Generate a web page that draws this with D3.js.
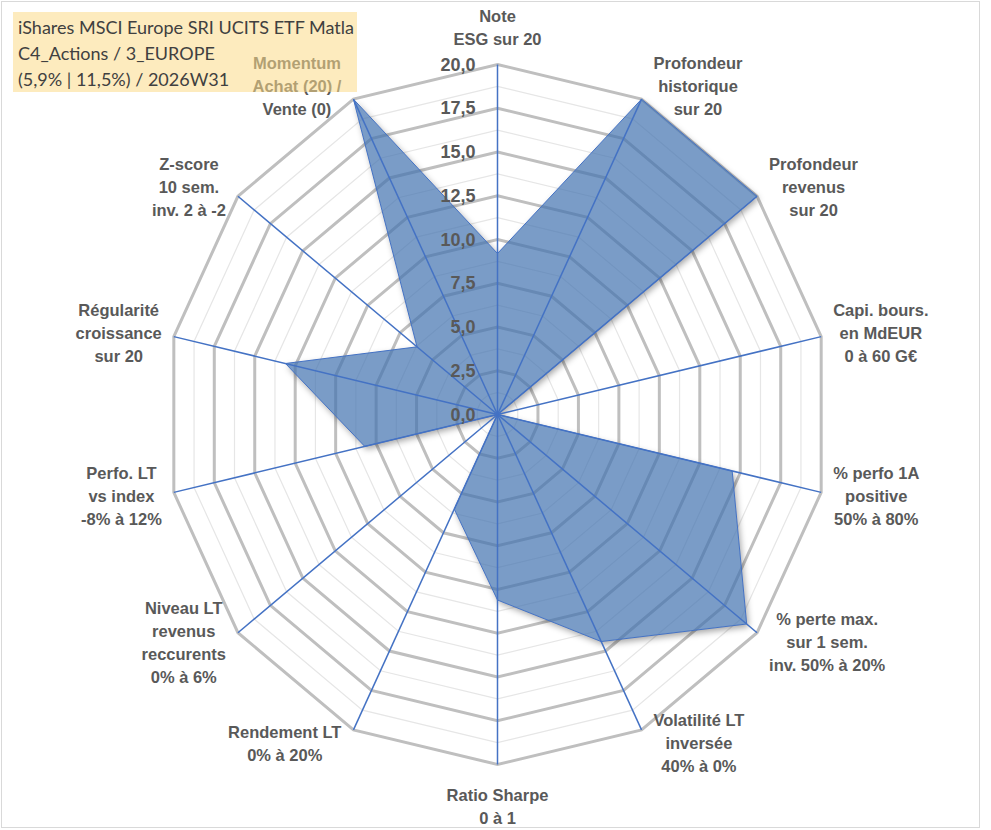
<!DOCTYPE html>
<html>
<head>
<meta charset="utf-8">
<script src="https://cdn.jsdelivr.net/npm/d3@7/dist/d3.min.js"></script>
<style>
  body { margin: 0; background: #fff; }
  svg { display: block; }
</style>
</head>
<body>
<script>
//Data
var axisLabels = [
    ["Note", "ESG sur 20"],
    ["Profondeur", "historique", "sur 20"],
    ["Profondeur", "revenus", "sur 20"],
    ["Capi. bours.", "en MdEUR", "0 à 60 G€"],
    ["% perfo 1A", "positive", "50% à 80%"],
    ["% perte max.", "sur 1 sem.", "inv. 50% à 20%"],
    ["Volatilité LT", "inversée", "40% à 0%"],
    ["Ratio Sharpe", "0 à 1"],
    ["Rendement LT", "0% à 20%"],
    ["Niveau LT", "revenus", "reccurents", "0% à 6%"],
    ["Perfo. LT", "vs index", "-8% à 12%"],
    ["Régularité", "croissance", "sur 20"],
    ["Z-score", "10 sem.", "inv. 2 à -2"],
    ["Momentum", "Achat (20) /", "Vente (0)"]
];

var scores = [9.2, 20, 20, 0, 14.5, 19.2, 14.4, 10.6, 6.0, 0, 8.2, 13.1, 6.2, 20];

var majorTicks = [0, 2.5, 5, 7.5, 10, 12.5, 15, 17.5, 20];
var minorTicks = [1.25, 3.75, 6.25, 8.75, 11.25, 13.75, 16.25, 18.75];

var titleLines = [
    "iShares MSCI Europe SRI UCITS ETF Matla",
    "C4_Actions / 3_EUROPE",
    "(5,9% | 11,5%) / 2026W31"
];

//Size of the page
var w = 991;
var h = 830;
var cx = 497.5;
var cy = 414.5;
var n = axisLabels.length;

var labelFont = "'Liberation Sans', Arial, Helvetica, sans-serif";

//Radial scales (the picture is a bit narrower than tall)
var rx = d3.scaleLinear().domain([0, 20]).range([0, 332]);
var ry = d3.scaleLinear().domain([0, 20]).range([0, 350]);
var angle = d3.scaleLinear().domain([0, n]).range([0, 2 * Math.PI]);

function pt(i, v) {
    var a = angle(i);
    return [cx + rx(v) * Math.sin(a), cy - ry(v) * Math.cos(a)];
}

var ring = d3.line().curve(d3.curveLinearClosed);
var fmt = d3.format(".1f");
var seriesPath = ring(scores.map(function(v, i) { return pt(i, v); }));

var svg = d3.select("body").append("svg")
    .attr("width", w)
    .attr("height", h);

//Shadow: blurred copy, only kept outside the series shape
var defs = svg.append("defs");
defs.append("filter")
    .attr("id", "blur")
    .attr("x", "-10%").attr("y", "-10%")
    .attr("width", "120%").attr("height", "120%")
    .append("feGaussianBlur")
    .attr("stdDeviation", 3);

var mask = defs.append("mask").attr("id", "outside")
    .attr("maskUnits", "userSpaceOnUse")
    .attr("x", 0).attr("y", 0).attr("width", w).attr("height", h);
mask.append("rect")
    .attr("width", w)
    .attr("height", h)
    .style("fill", "#fff");
mask.append("path")
    .attr("d", seriesPath)
    .style("fill", "#000");

//Chart border
svg.append("rect")
    .attr("x", 1.5)
    .attr("y", 1.5)
    .attr("width", 978)
    .attr("height", 826)
    .style("fill", "none")
    .style("stroke", "#d9d9d9")
    .style("stroke-width", 1);

var chart = svg.append("g");

//Minor rings
chart.selectAll(".minor")
    .data(minorTicks)
    .enter()
        .append("path")
        .classed("minor", true)
        .attr("d", function(v) {
            return ring(d3.range(n).map(function(i) { return pt(i, v); }));
        })
        .style("fill", "none")
        .style("stroke", "#e6e6e6")
        .style("stroke-width", 1.2);

//Major rings
chart.selectAll(".major")
    .data(majorTicks.slice(1))
    .enter()
        .append("path")
        .classed("major", true)
        .attr("d", function(v) {
            return ring(d3.range(n).map(function(i) { return pt(i, v); }));
        })
        .style("fill", "none")
        .style("stroke", "#bfbfbf")
        .style("stroke-width", 3);

chart.append("g")
    .attr("mask", "url(#outside)")
    .append("path")
    .attr("d", seriesPath)
    .attr("transform", "translate(2,3)")
    .attr("filter", "url(#blur)")
    .style("fill", "#000")
    .style("fill-opacity", 0.35);

//The filled series
chart.append("path")
    .attr("d", seriesPath)
    .style("fill", "rgb(65,114,175)")
    .style("fill-opacity", 0.7)
    .style("stroke", "#4472c4")
    .style("stroke-width", 1);

//Spokes
chart.selectAll(".spoke")
    .data(d3.range(n))
    .enter()
        .append("line")
        .classed("spoke", true)
        .attr("x1", cx)
        .attr("y1", cy)
        .attr("x2", function(i) { return pt(i, 20)[0]; })
        .attr("y2", function(i) { return pt(i, 20)[1]; })
        .style("stroke", "#4472c4")
        .style("stroke-width", 1.5);

//Tick labels
chart.selectAll(".tick")
    .data(majorTicks)
    .enter()
        .append("text")
        .classed("tick", true)
        .attr("x", cx - 22)
        .attr("y", function(v) { return cy - ry(v); })
        .attr("text-anchor", "end")
        .attr("dominant-baseline", "central")
        .style("font-family", labelFont)
        .style("font-weight", "bold")
        .style("font-size", "18px")
        .style("fill", "#595959")
        .text(function(v) { return fmt(v).replace(".", ","); });

//Category labels
var lineH = 23;
var labels = chart.selectAll(".cat")
    .data(axisLabels)
    .enter()
        .append("text")
        .classed("cat", true)
        .attr("text-anchor", "middle")
        .style("font-family", labelFont)
        .style("font-weight", "bold")
        .style("font-size", "16.5px")
        .style("fill", "#595959");

labels.each(function(lines, i) {
    var t = d3.select(this);
    var tsp = t.selectAll("tspan")
        .data(lines)
        .enter()
            .append("tspan")
            .attr("dominant-baseline", "central")
            .text(function(s) { return s; });

    var bw = d3.max(tsp.nodes(), function(node) { return node.getComputedTextLength(); });
    var bh = lines.length * lineH;
    var a = angle(i);
    var p = pt(i, 20);
    var s = Math.sin(a);
    var xc, yc;

    if (Math.abs(s) < 0.01) {
        xc = p[0];
        yc = Math.cos(a) > 0 ? p[1] - 14 - bh / 2 : p[1] + 19 + bh / 2;
    } else {
        xc = s > 0 ? p[0] + 12 + bw / 2 : p[0] - 12 - bw / 2;
        yc = p[1] - 15 * Math.cos(a);
    }

    tsp.attr("x", xc)
        .attr("y", function(s, j) { return yc + (j - (lines.length - 1) / 2) * lineH; });
});

//Title box, laid over the chart
svg.append("rect")
    .attr("x", 13)
    .attr("y", 12)
    .attr("width", 344)
    .attr("height", 80)
    .style("fill", "rgb(251,219,137)")
    .style("fill-opacity", 0.55);

svg.selectAll(".title")
    .data(titleLines)
    .enter()
        .append("text")
        .classed("title", true)
        .attr("x", 18)
        .attr("y", function(d, i) { return 27 + i * 26; })
        .attr("dominant-baseline", "central")
        .style("font-family", "Lato, sans-serif")
        .style("font-size", "18px")
        .style("fill", "#404040")
        .text(function(d) { return d; });
</script>
</body>
</html>
